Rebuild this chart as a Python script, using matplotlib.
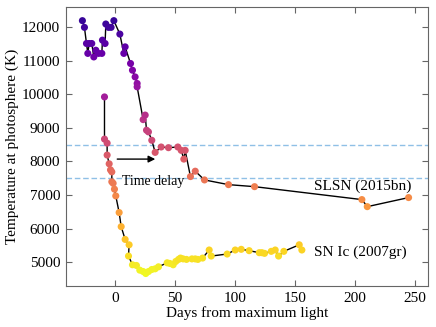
import numpy as np
import matplotlib
matplotlib.use("Agg")
import matplotlib.pyplot as plt

plt.rcParams["font.family"] = ["Liberation Serif", "DejaVu Serif"]

# SLSN 2015bn: days from maximum, temperature (K)
slsn_days = [-27.0, -25.3, -23.6, -22.5, -21.4, -19.2, -17.5, -15.8, -13.6, -10.8,
             -10.3, -8.1, -7.5, -5.3, -3.1, -0.8, 4.2, 7.5, 8.6, 13.1, 14.7, 16.9,
             18.6, 18.6, 23.6, 25.3, 26.4, 28.0, 30.8, 33.6, 38.6, 44.7, 52.5,
             55.3, 57.5, 58.6, 63.0, 67.0, 74.7, 94.7, 116.4, 205.8, 210.3, 244.7]
slsn_temp = [12190, 11990, 11510, 11215, 11510, 11510, 11110, 11310, 11215, 11215,
             11610, 11510, 12090, 11990, 11990, 12190, 11790, 11215, 11410, 10915,
             10715, 10515, 10320, 10220, 9245, 9380, 8930, 8880, 8630, 8270, 8430,
             8410, 8430, 8330, 8070, 8330, 7550, 7710, 7450, 7310, 7250, 6865,
             6655, 6925]

# SN Ic 2007gr
snic_days = [-8.6, -8.6, -6.4, -6.4, -4.7, -3.6, -2.5, -2.5, -1.4, -0.3, 0.8, 3.6,
             5.3, 8.6, 11.9, 11.4, 14.7, 18.0, 20.8, 23.6, 25.8, 28.1, 30.8, 33.6,
             36.4, 43.6, 45.8, 48.6, 50.8, 53.1, 54.7, 56.9, 59.7, 64.2, 67.0, 69.2,
             73.1, 78.6, 80.3, 93.6, 100.3, 105.3, 111.9, 120.3, 122.5, 124.7,
             130.3, 133.6, 136.4, 140.8, 153.6, 155.8]
snic_temp = [9920, 8665, 8545, 8190, 7930, 7750, 7690, 7395, 7350, 7175, 6975, 6480,
             6060, 5680, 5520, 5185, 4925, 4905, 4765, 4725, 4665, 4725, 4785, 4805,
             4865, 4985, 4965, 4925, 5025, 5085, 5125, 5100, 5085, 5100, 5100, 5085,
             5125, 5365, 5185, 5245, 5365, 5385, 5345, 5285, 5285, 5265, 5325, 5365,
             5185, 5325, 5520, 5365]

delay_levels = [8500, 7500]

fig = plt.figure(figsize=(4.36, 3.27), dpi=100)
ax = fig.add_axes([0.151, 0.125, 0.831, 0.854])

for y in delay_levels:
    ax.axhline(y, color="#8fc0e6", lw=1.0, ls=(0, (4, 2)), zorder=1)

norm = plt.Normalize(4650, 12800)
for d, t in [(slsn_days, slsn_temp), (snic_days, snic_temp)]:
    ax.plot(d, t, color="black", lw=1.0, zorder=2)
    ax.scatter(d, t, c=t, cmap="plasma_r", norm=norm, s=26, zorder=3,
               edgecolors="none")

ax.annotate("", xy=(36, 8070), xytext=(-0.3, 8070),
            arrowprops=dict(arrowstyle="-|>", color="black", lw=1.0,
                            mutation_scale=10))
ax.text(5.8, 7400, "Time delay", fontsize=10, va="center")
ax.text(165.8, 7250, "SLSN (2015bn)", fontsize=11, va="center")
ax.text(165.8, 5284, "SN Ic (2007gr)", fontsize=11, va="center")

ax.set_xlim(-40.8, 261)
ax.set_ylim(4290, 12600)
ax.set_xticks([0, 50, 100, 150, 200, 250])
ax.set_yticks([5000, 6000, 7000, 8000, 9000, 10000, 11000, 12000])
ax.set_xlabel("Days from maximum light", fontsize=11, labelpad=1)
ax.set_ylabel("Temperature at photosphere (K)", fontsize=11, labelpad=2)
ax.tick_params(direction="in", top=True, right=True, labelsize=11,
               length=4, color="0.4", pad=4)
for s in ax.spines.values():
    s.set_color("0.4")

fig.savefig("out.png", dpi=100)
